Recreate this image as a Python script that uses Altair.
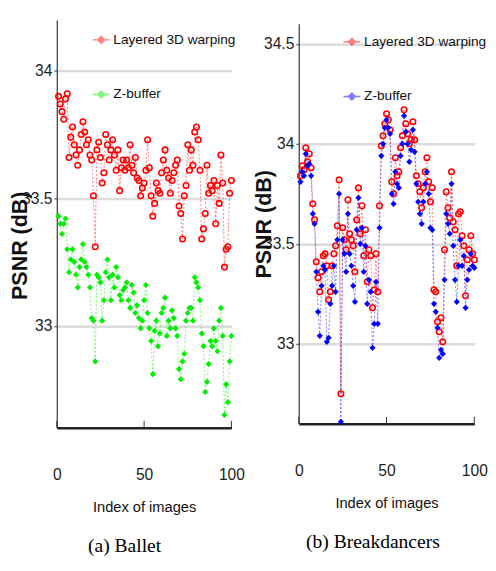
import altair as alt
import pandas as pd

METHODS = ["Layered 3D warping", "Z-buffer"]
X_TICKS = [0, 50, 100]
BALLET_Y_TICKS = [33, 33.5, 34]
BREAK_Y_TICKS = [33, 33.5, 34, 34.5]

ballet_layered = [
    33.90, 33.87, 33.84, 33.81, 33.89, 33.91, 33.66, 33.74, 33.78, 33.71,
    33.67, 33.63, 33.69, 33.75, 33.80, 33.76, 33.71, 33.73, 33.67, 33.65,
    33.51, 33.31, 33.69, 33.72, 33.66, 33.56, 33.60, 33.75, 33.71, 33.65,
    33.69, 33.73, 33.67, 33.61, 33.69, 33.53, 33.62, 33.65, 33.61, 33.65,
    33.62, 33.71, 33.63, 33.60, 33.66, 33.58, 33.57, 33.51, 33.54, 33.56,
    33.61, 33.73, 33.62, 33.51, 33.43, 33.48, 33.56, 33.53, 33.52, 33.60,
    33.65, 33.69, 33.61, 33.58, 33.52, 33.57, 33.60, 33.63, 33.65, 33.47,
    33.44, 33.34, 33.51, 33.55, 33.71, 33.61, 33.69, 33.63, 33.76, 33.78,
    33.73, 33.61, 33.34, 33.38, 33.44, 33.63, 33.52, 33.55, 33.53, 33.57,
    33.40, 33.55, 33.48, 33.67, 33.56, 33.23, 33.30, 33.31, 33.52, 33.57,
]
ballet_zbuffer = [
    33.43, 33.40, 33.36, 33.40, 33.42, 33.30, 33.21, 33.26, 33.30, 33.25,
    33.20, 33.15, 33.23, 33.26, 33.32, 33.25, 33.23, 33.20, 33.15, 33.03,
    33.02, 32.86, 33.20, 33.19, 33.17, 33.02, 33.10, 33.21, 33.26, 33.19,
    33.10, 33.20, 33.15, 33.23, 33.19, 33.12, 33.10, 33.14, 33.15, 33.17,
    33.10, 33.07, 33.16, 33.13, 33.05, 33.08, 33.03, 32.99, 33.02, 33.10,
    33.16, 33.05, 32.99, 32.94, 32.81, 32.98, 33.02, 32.92, 32.97, 33.05,
    33.07, 33.11, 32.96, 33.02, 32.99, 33.06, 33.03, 32.99, 32.96, 32.83,
    32.79, 32.86, 32.89, 33.02, 33.05, 33.07, 33.07, 33.02, 33.19, 33.17,
    33.15, 33.10, 32.97, 32.92, 32.74, 32.78, 32.85, 32.94, 32.92, 32.99,
    32.94, 32.90, 33.02, 33.07, 32.96, 32.65, 32.77, 32.70, 32.86, 32.96,
]
break_layered = [
    33.84, 33.89, 33.87, 33.98, 33.91, 33.95, 33.88, 33.70, 33.62, 33.41,
    33.33, 33.26, 33.36, 33.44, 33.45, 33.39, 33.22, 33.26, 33.39, 33.45,
    33.49, 33.59, 33.82, 32.75, 33.58, 33.52, 33.47, 33.72, 33.55, 33.52,
    33.49, 33.36, 33.62, 33.78, 33.55, 33.69, 33.44, 33.57, 33.31, 33.47,
    33.44, 33.18, 33.27, 33.45, 33.26, 33.69, 33.99, 34.04, 34.10, 34.15,
    34.12, 34.07, 33.81, 33.75, 33.93, 33.84, 33.86, 33.98, 34.04, 34.17,
    34.10, 34.05, 34.00, 34.02, 34.11, 34.02, 33.84, 33.80, 33.76, 33.68,
    33.78, 33.86, 33.93, 33.81, 33.71, 33.78, 33.27, 33.26, 33.11, 33.06,
    33.13, 33.01, 33.47, 33.76, 33.68, 33.63, 33.86, 33.61, 33.57, 33.39,
    33.65, 33.66, 33.54, 33.49, 33.24, 33.42, 33.47, 33.54, 33.45, 33.42,
]
break_zbuffer = [
    33.81, 33.86, 33.84, 33.95, 33.89, 33.90, 33.84, 33.65, 33.60, 33.36,
    33.16, 33.04, 33.29, 33.39, 33.37, 33.01, 33.03, 33.20, 33.29, 33.39,
    33.26, 33.52, 33.75, 32.61, 33.52, 33.45, 33.36, 33.65, 33.45, 33.39,
    33.29, 33.21, 33.57, 33.73, 33.50, 33.58, 33.36, 33.49, 33.20, 33.32,
    33.26, 32.98, 33.10, 33.31, 33.10, 33.58, 33.94, 34.00, 34.08, 34.12,
    34.08, 34.05, 33.75, 33.70, 33.86, 33.80, 33.78, 33.94, 34.00, 34.14,
    34.06, 34.00, 33.91, 33.97, 34.07, 33.96, 33.80, 33.71, 33.65, 33.60,
    33.71, 33.80, 33.86, 33.75, 33.58, 33.57, 33.20, 33.16, 33.08, 32.93,
    32.97, 32.95, 33.32, 33.65, 33.60, 33.55, 33.80, 33.49, 33.32, 33.21,
    33.39, 33.52, 33.39, 33.44, 33.18, 33.32, 33.37, 33.45, 33.39, 33.38,
]

SANS = "Liberation Sans, Arial, sans-serif"
SERIF = "Liberation Serif, Times New Roman, serif"
LEGEND_SYMBOL = "M-1,0L1,0M0,-0.4L0.4,0L0,0.4L-0.4,0Z"


def long_df(a, b):
    rows = []
    for i, v in enumerate(a, start=1):
        rows.append({"idx": i, "psnr": v, "method": METHODS[0]})
    for i, v in enumerate(b, start=1):
        rows.append({"idx": i, "psnr": v, "method": METHODS[1]})
    return pd.DataFrame(rows)


def panel(df, colors, ydom, yticks, w, h, caption, cap_dx, lx, ly, tx, ty):
    legend = alt.Legend(
        orient="none", legendX=lx, legendY=ly, title=None,
        labelFont=SANS, labelFontSize=14, labelColor="#111",
        symbolType=LEGEND_SYMBOL, symbolSize=300, symbolStrokeWidth=1.5,
        rowPadding=39, labelOffset=3, padding=0,
    )
    color = alt.Color("method:N", scale=alt.Scale(domain=METHODS, range=colors), legend=legend)
    x = alt.X(
        "idx:Q", scale=alt.Scale(domain=[0, 100], nice=False, zero=False),
        axis=alt.Axis(
            values=X_TICKS, title="Index of images", labelFont=SANS, labelFontSize=16,
            labelColor="#222", labelPadding=40, ticks=False, domainColor="#222",
            domainWidth=2.5, grid=False, titleFont=SANS, titleFontSize=15,
            titleFontWeight="normal", titleColor="#111", titlePadding=18, labelFlush=False,
        ),
    )
    y = alt.Y(
        "psnr:Q", scale=alt.Scale(domain=ydom, nice=False, zero=False),
        axis=alt.Axis(
            values=yticks, format="~g", title="PSNR (dB)", labelFont=SANS,
            labelFontSize=16, labelColor="#222", labelPadding=2, tickSize=3,
            tickColor="#333", domainColor="#333", domainWidth=1.2, grid=True,
            gridColor="#dcdcdc", gridWidth=2.5, titleFont=SANS,
            titleFontWeight="bold", titleFontSize=22, titleAngle=270, titleX=tx,
            titleY=ty, titleBaseline="alphabetic", titleAlign="center", titleColor="#111",
        ),
    )
    base = alt.Chart(df).encode(x=x, y=y, color=color)
    lines = base.mark_line(strokeWidth=1, strokeDash=[2, 2], opacity=0.5)
    red_pts = base.transform_filter(alt.datum.method == METHODS[0]).mark_point(
        shape="circle", filled=False, size=32, strokeWidth=1.6, opacity=1)
    other_pts = base.transform_filter(alt.datum.method == METHODS[1]).mark_point(
        shape="diamond", filled=True, size=40, opacity=1)
    ticks = alt.Chart(pd.DataFrame({"idx": X_TICKS})).mark_rule(
        color="#333", strokeWidth=1).encode(x=x, y=alt.value(h), y2=alt.value(h - 7))
    return alt.layer(lines, red_pts, other_pts, ticks).properties(
        width=w, height=h,
        title=alt.TitleParams(
            text=caption, orient="bottom", font=SERIF, fontSize=20, fontWeight="normal",
            color="black", anchor="middle", dx=cap_dx, offset=22),
    )


left = panel(long_df(ballet_layered, ballet_zbuffer), ["#ff0000", "#00ee00"],
             [32.6, 34.2], BALLET_Y_TICKS, 179, 418, "(a) Ballet", -20, 36, 11, -31, 231)
right = panel(long_df(break_layered, break_zbuffer), ["#ff0000", "#0000ff"],
              [32.6, 34.6], BREAK_Y_TICKS, 180, 410, "(b) Breakdancers", -14, 45, 9, -29, 205)

chart = alt.hconcat(left, right, spacing=7, center=True).resolve_scale(
    color="independent").properties(
    padding={"left": 0, "top": 4, "right": 0, "bottom": 0}
).configure_view(stroke="transparent")

chart.save("out.html", embed_options={"renderer": "svg", "actions": False})
